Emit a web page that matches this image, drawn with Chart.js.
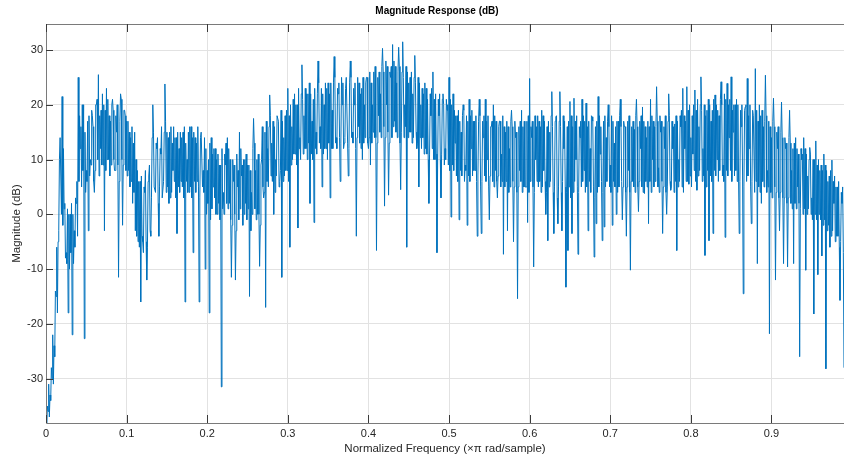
<!DOCTYPE html>
<html><head><meta charset="utf-8">
<script src="https://cdn.jsdelivr.net/npm/chart.js@4.4.1/dist/chart.umd.min.js"></script>
<style>html,body{margin:0;padding:0;background:#fff;overflow:hidden}#wrap{width:844px;height:463px}</style>
</head><body><div id="wrap"><canvas id="c" width="844" height="463"></canvas></div>
<script>
const chartTitle = 'Magnitude Response (dB)';
const xAxisTitle = 'Normalized Frequency (\u00d7\u03c0 rad/sample)';
const yAxisTitle = 'Magnitude (dB)';
const freqStep = 0.0025;
const xTicks = [0, 0.1, 0.2, 0.3, 0.4, 0.5, 0.6, 0.7, 0.8, 0.9];
const xTickLabels = ['0', '0.1', '0.2', '0.3', '0.4', '0.5', '0.6', '0.7', '0.8', '0.9'];
const yTicks = [-30, -20, -10, 0, 10, 20, 30];
const yTickLabels = ['-30', '-20', '-10', '0', '10', '20', '30'];

// magnitude (dB) peaks / dips, one value every 0.0025
const magSeg1 = [-45,-36,-33,-30,-24,-15,-5,14,21.5,1,-7,-18,0,-22,-3,2,25,12,20,-22.7,
  8,-3,10,18,4,20,25.5,12,22,-3,23,10,17,21,8,15,-11.5,22,-2,19,
  17,8,14,2,15,-4,6,-16,-5,4,-12,7,-4,20,5,12,-4,11,3,23.8,
  15,2,16,8,14,-3.5,12,6,15,-16,10,4,16,-7,14,6,-16,15,8];
const magSeg2 = [-10,8,-18,14,5,12,0,9,-31.5,4,9,14,2,-11.5,6,-12,5,15,7,10,
  2,9,-15,4,17.5,8,0,-9.5,10,3,-17,12,21.8,13,0,10,18,6,-11.5,14,
  8,23,-6,16,11,20,-2.5,14,27.3,18,12,22,2,17,-1.5,15,28,16,5,20,
  12,24,3,19,28.8,14,22,6,20,13,25,7,28,15,20,-4,16,22,10,20];
const magSeg3 = [25,12,9,20,14,-6.6,18,22,30.3,1.5,20,3.5,25,31,17,24,30.5,4.5,31.5,20,
  -6,24,15,22,29,12,5,20,14,24,11,2,18,26,10,-7,18,3,22,12,
  19,25,-0.5,22,13,18,-1,15,20,9,-2,21,12,17,8,-4,21,-3.5,14,21,
  10,-1,16,20,8,3,17,11,-7.3,15,-3,12,19,-5,14,-15.4,8,19,5];
const magSeg4 = [5,-1.5,24.8,14,-9.6,10,18,6,19,8,0,-4.8,15,22.4,-3.5,17.8,-1.7,22.4,-3,12,
  -13.3,-6.6,20.6,-3.5,21.2,10,-7.3,14,21,8,20.3,-3,12,17.8,-7.8,-1.7,21.5,11,-4.8,-2.3,
  14,20,9,-2,13,0,17,21,-1,16,-4,8,-10.2,6,15.5,21,0.5,12,19.6,3.8,
  14,-1.7,21,10,16,23.3,8.5,15,-3.5,12,0,22,4.4,12,16.5,-6.6,10,16,23,12];
const magSeg5 = [23.3,5.5,14,11,22.7,4.4,16,25.1,12,-7.5,19,-4.8,17,-3.5,21.8,10,18,24.2,9,-4.2,
  23.9,14,25.1,15,20,6,-3.5,16,-14.5,19.6,24.8,12,-1.7,18,26.6,-9,20,2,16,25.4,
  8,-21.8,14,21.2,-12,12,-3,20.5,-9,12,-9.6,19,8,-9,14,5,-26,10,14,-10.2,
  7,12.2,3,-18.2,13.4,-11,8,-7.6,11,-28.2,6,-6,9.9,2,5,-4,-15.7,2,-28,-5];

// dense core of the trace (lower / upper edge of the solid band), read per 0.0025 step
const coreLo1 = [-40,-37,-34,-31,-26,-18, -3,0,-2, -8,-9,-10,-7,-9,-6,-4, 6,5,8,4,6,7,9,6,8,10,7,9,
  9,8,10,7,9,10,8,9,6,10,9,8, 7,5,6,4, -3,-5,-6,-4,-7,-5,-6,-3, 3,5,4,2,5,3,6,4,5,3,4,6,3,5,
  4,5,3,6,4,5,3,6,4,5,3,5,4];
const coreHi1 = [-35,-31,-28,-22,-14,-6, 10,14,12, 2,1,0,2,0,3,6, 18,16,20,15,17,18,19,16,20,21,18,19,
  20,19,21,18,20,19,18,20,17,21,19,18, 17,15,16,13, 10,8,6,7,5,8,6,9, 14,15,13,14,12,16,15,17,14,15,13,16,14,15,
  15,14,16,13,15,16,14,15,13,16,14,15,14];
const coreLo2 = [0,2,-1,1,3,0,2,-1,1,0,2,1,-1, -2,0,-3,-1,1,-2,0,-1,1,-3,0,1,-1,0,-2,
  5,4,6,5,7,6,4,7,5,8,6,7,8,6,9, 10,11,9,12,10,11,12,10,13,11,10,12,11,13,12,11,12,10,13,12,
  12,13,12,14,13,12,14,13,12,14,13,12,14,13,12,13,14];
const coreHi2 = [12,10,13,11,12,10,11,9,12,11,13,12,10, 10,9,11,8,12,9,10,11,9,8,12,13,10,11,9,
  16,15,17,16,18,17,16,18,17,19,17,18,19,18,20, 21,22,20,23,22,21,23,22,24,22,21,23,22,24,23,22,24,23,22,24,
  24,25,23,24,25,24,23,25,24,25,23,24,25,24,23,25,24];
const coreLo3 = [13,14,13,15,14,13,15,14,16,14,15,13,14,16,15,14,13,15,14,16,14,15,13,14,15,13,14,12,
  11,12,10,11,12,10,11,9,10,11,9,10,9,8,9,8,
  7,6,8,7,6,8,7,6,7,8,6,7,5,6,7,6,5,7,6,5,6,7,5,6,5,6,4,5,6,5,4,5,6,4,5];
const coreHi3 = [25,26,24,26,27,25,26,27,26,28,27,26,27,28,27,26,27,26,25,27,26,25,26,25,24,25,24,23,
  22,23,21,22,23,21,22,21,22,21,20,21,20,21,20,19,
  18,19,17,18,19,18,17,18,19,17,18,17,18,17,18,17,18,16,17,18,17,16,17,18,16,17,16,17,16,17,15,16,17,16,17];
const coreLo4 = [5,4,6,5,4,6,5,4,5,6,4,5,6,4,5,3,5,4,6,5, 4,5,3,4,6,5,4,5,6,4, 5,6,4,5,3,4,5,6,4,5,
  6,5,4,6,5,4,5,6,5,4, 5,4,6,5,4,5,6,5,4,6, 5,6,4,5,6,5,4,6,5,4, 5,6,5,4,6,5,6,5,4,6];
const coreHi4 = [17,18,16,17,18,16,17,16,18,17,16,17,18,16,17,18,17,16,18,17, 16,17,18,16,17,18,16,17,18,17, 16,17,18,17,16,17,18,16,17,18,
  17,16,18,17,16,17,18,16,17,16, 17,18,16,17,18,16,17,18,17,16, 17,16,18,17,16,17,18,17,16,18, 17,18,17,16,18,17,18,19,18,17];
const coreLo5 = [6,7,5,8,6,7,8,6,7,5,8,7,6,8,7,6,8,7,6,8,7,8,6,7,8,7,6,7,
  5,6,7,5,6,4,6,5,4,6,5,4,5,4,3,5,4,3,4,3,
  3,2,3,2,1,2,1,2,1,0,1,0,1,0,-1,0,-1,0,-1,-2,-1,-3,-2,-4,-3,-5,-4,-6,-5,-7,-6,-7];
const coreHi5 = [19,20,18,20,19,21,20,19,20,18,21,20,19,21,20,19,21,20,22,21,20,21,19,20,21,20,19,20,
  19,20,18,20,19,18,19,17,18,19,17,18,17,16,17,16,15,16,15,14,
  14,13,14,13,12,13,12,11,12,11,12,11,10,11,10,10,9,10,9,8,9,8,7,8,6,7,5,6,4,5,3,3];

const magDb = [].concat(magSeg1, magSeg2, magSeg3, magSeg4, magSeg5);
const coreLo = [].concat(coreLo1, coreLo2, coreLo3, coreLo4, coreLo5);
const coreHi = [].concat(coreHi1, coreHi2, coreHi3, coreHi4, coreHi5);

const points = [];
magDb.forEach((v, i) => {
  points.push({x: i * freqStep, y: v});
  if (i < magDb.length - 1 && coreLo[i] !== undefined && coreHi[i] !== undefined) {
    const first = i % 2 ? coreHi[i] : coreLo[i];
    const second = i % 2 ? coreLo[i] : coreHi[i];
    points.push({x: (i + 1 / 3) * freqStep, y: first});
    points.push({x: (i + 2 / 3) * freqStep, y: second});
  }
});

const FONT = '"Liberation Sans", Arial, Helvetica, sans-serif';
const TXT = '#262626';

const framePlugin = {
  id: 'frame',
  afterDatasetsDraw(chart) {
    const {ctx, chartArea: a, scales: {x, y}} = chart;
    ctx.save();
    ctx.strokeStyle = '#7a7a7a';
    ctx.lineWidth = 1;
    ctx.beginPath();
    ctx.moveTo(a.left + 0.5, a.bottom + 0.5);
    ctx.lineTo(a.left + 0.5, a.top + 0.5);
    ctx.lineTo(a.right + 2, a.top + 0.5);
    ctx.moveTo(a.left + 0.5, a.bottom + 0.5);
    ctx.lineTo(a.right + 2, a.bottom + 0.5);
    ctx.stroke();
    ctx.strokeStyle = '#3a3a3a';
    ctx.beginPath();
    xTicks.forEach(v => {
      const px = Math.round(x.getPixelForValue(v)) + 0.5;
      ctx.moveTo(px, a.bottom); ctx.lineTo(px, a.bottom - 8);
      ctx.moveTo(px, a.top); ctx.lineTo(px, a.top + 8);
    });
    yTicks.forEach(v => {
      const py = Math.round(y.getPixelForValue(v)) + 0.5;
      ctx.moveTo(a.left, py); ctx.lineTo(a.left + 7, py);
    });
    ctx.stroke();
    ctx.fillStyle = '#000';
    ctx.font = 'bold 10px ' + FONT;
    ctx.textAlign = 'center';
    ctx.textBaseline = 'middle';
    ctx.fillText(chartTitle, 437, 11);
    ctx.restore();
  }
};

new Chart(document.getElementById('c').getContext('2d'), {
  type: 'line',
  data: {datasets: [{data: points, borderColor: '#0072BD', borderWidth: 1, pointRadius: 0, tension: 0, fill: false}]},
  options: {
    responsive: false, animation: false, devicePixelRatio: 1,
    layout: {padding: {top: 24, right: 0, left: 0, bottom: 0}},
    plugins: {legend: {display: false}, tooltip: {enabled: false}, title: {display: false}},
    scales: {
      x: {
        type: 'linear', min: 0, max: 0.99,
        afterBuildTicks: s => { s.ticks = xTicks.map(v => ({value: v})); },
        afterFit: s => { s.height = 40; },
        ticks: {autoSkip: false, maxRotation: 0, padding: 4, color: TXT, font: {family: FONT, size: 11},
                callback: (v, i) => xTickLabels[i]},
        grid: {color: '#e2e2e2', lineWidth: 1, drawTicks: false},
        border: {display: false},
        title: {display: true, text: xAxisTitle, color: TXT, font: {family: FONT, size: 11.5}, padding: {top: 0, bottom: 7}}
      },
      y: {
        type: 'linear', min: -38.1, max: 34.75,
        afterBuildTicks: s => { s.ticks = yTicks.map(v => ({value: v})); },
        afterFit: s => { s.width = 46; },
        ticks: {padding: 3, color: TXT, font: {family: FONT, size: 11}, callback: (v, i) => yTickLabels[i]},
        grid: {color: '#e2e2e2', lineWidth: 1, drawTicks: false},
        border: {display: false},
        title: {display: true, text: yAxisTitle, color: TXT, font: {family: FONT, size: 11.5}, padding: {top: 10, bottom: 0}}
      }
    }
  },
  plugins: [framePlugin]
});
</script></body></html>
